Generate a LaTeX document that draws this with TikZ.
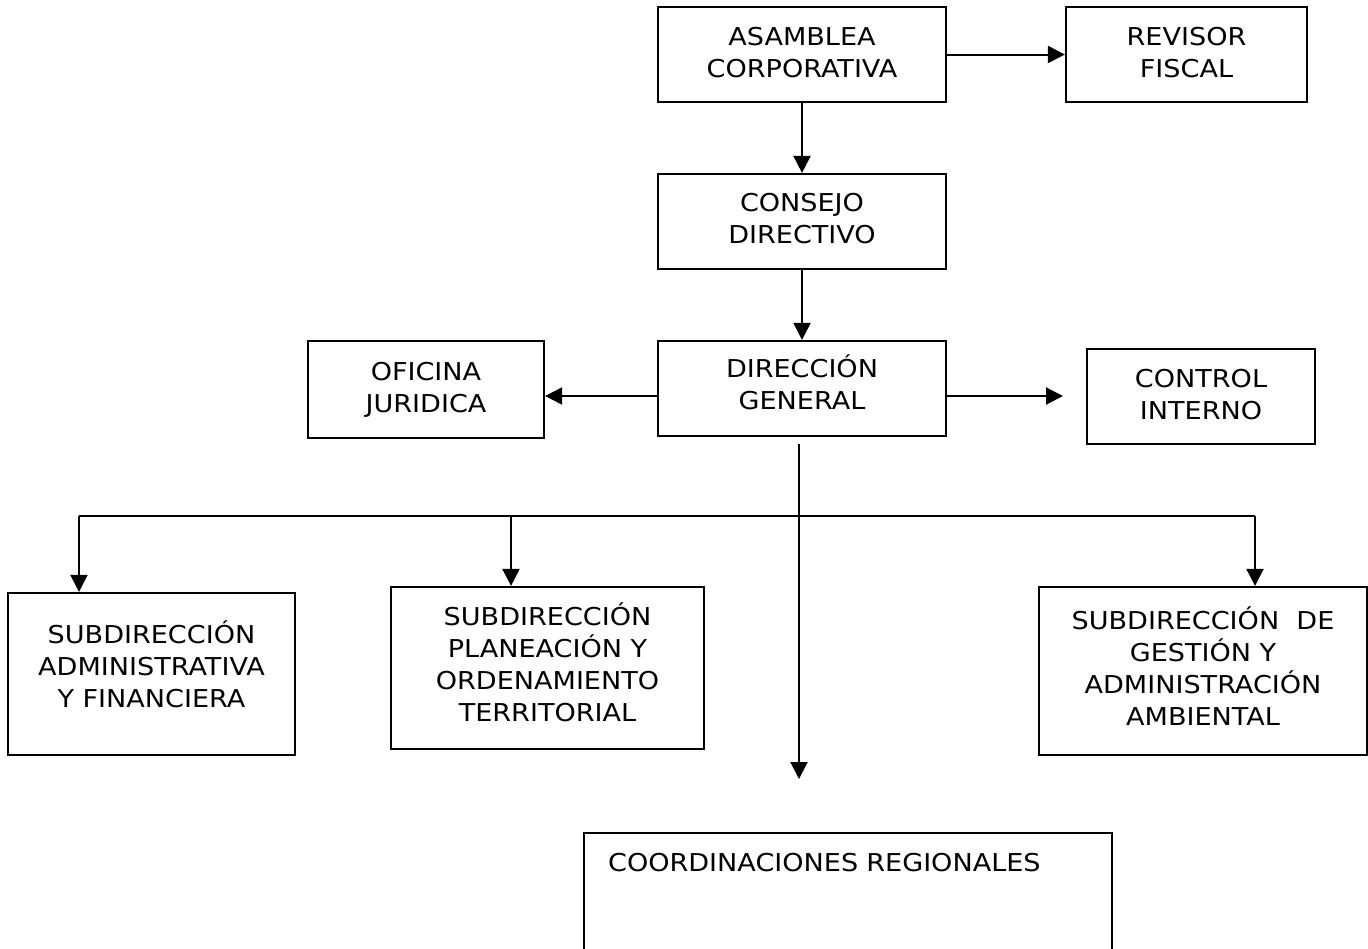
\documentclass[tikz,border=0pt]{standalone}
\usepackage{fontspec}
\setmainfont{DejaVu Sans}[FakeStretch=1.1]
\usetikzlibrary{arrows.meta}
\begin{document}
\begin{tikzpicture}[x=0.5pt,y=-0.5pt,
  box/.style={draw,line width=1.1pt,rectangle,inner sep=0pt,align=center,
    font=\fontsize{12.3}{16}\selectfont},
  lift/.style={text depth=#1},
  arr/.style={line width=1pt,-{Triangle[length=8.5pt,width=8.5pt]}},
  ln/.style={line width=1pt}]
\useasboundingbox (0,0) rectangle (1368,948);
\node[box,lift=2.5pt,minimum width=144pt,minimum height=47.5pt] (asam) at (802,54.5) {ASAMBLEA\\CORPORATIVA};
\node[box,lift=2.5pt,minimum width=120.5pt,minimum height=47.5pt] (rev) at (1186.5,54.5) {REVISOR\\FISCAL};
\node[box,lift=3.5pt,minimum width=144pt,minimum height=47.5pt] (cons) at (802,221.5) {CONSEJO\\DIRECTIVO};
\node[box,lift=6pt,minimum width=144pt,minimum height=47.5pt] (dg) at (802,388.5) {DIRECCIÓN\\GENERAL};
\node[box,lift=2pt,minimum width=118pt,minimum height=48.5pt] (of) at (426,389.5) {OFICINA\\JURIDICA};
\node[box,lift=2.5pt,minimum width=114pt,minimum height=47.5pt] (ci) at (1201,396.5) {CONTROL\\INTERNO};
\node[box,lift=10pt,minimum width=143.5pt,minimum height=81pt] (sa) at (151.5,674) {SUBDIRECCIÓN\\ADMINISTRATIVA\\Y FINANCIERA};
\node[box,lift=6pt,minimum width=156.5pt,minimum height=81pt] (sp) at (547.5,668) {SUBDIRECCIÓN\\PLANEACIÓN Y\\ORDENAMIENTO\\TERRITORIAL};
\node[box,lift=5pt,minimum width=164pt,minimum height=84pt] (sg) at (1203,671) {SUBDIRECCIÓN\ \ DE\\GESTIÓN Y\\ADMINISTRACIÓN\\AMBIENTAL};
\node[box,anchor=north west,inner xsep=12pt,inner ysep=10pt,text width=240pt,align=left,
  text height=9pt,text depth=60pt] (coord) at (583,832) {COORDINACIONES REGIONALES};
% connectors
\draw[arr] (asam.east) -- (rev.west);
\draw[arr] (asam.south) -- (cons.north);
\draw[arr] (cons.south) -- (dg.north);
\draw[arr] ([yshift=-3.75pt]dg.west) -- ([yshift=-3.75pt]dg.west -| of.east);
\coordinate (citip) at (1063,396);
\draw[arr] ([xshift=-1pt]dg.east |- citip) -- (citip);
\coordinate (dtop) at (799,444);
\coordinate (dtip) at (799,779);
\draw[arr] (dtop) -- (dtip);
\coordinate (busL) at (79,516);
\coordinate (busM) at (511,516);
\coordinate (busR) at (1255,516);
\draw[ln] (busL) -- (busR);
\draw[arr] (busL) -- (busL |- sa.north);
\draw[arr] (busM) -- (busM |- sp.north);
\draw[arr] (busR) -- (busR |- sg.north);
\end{tikzpicture}
\end{document}
